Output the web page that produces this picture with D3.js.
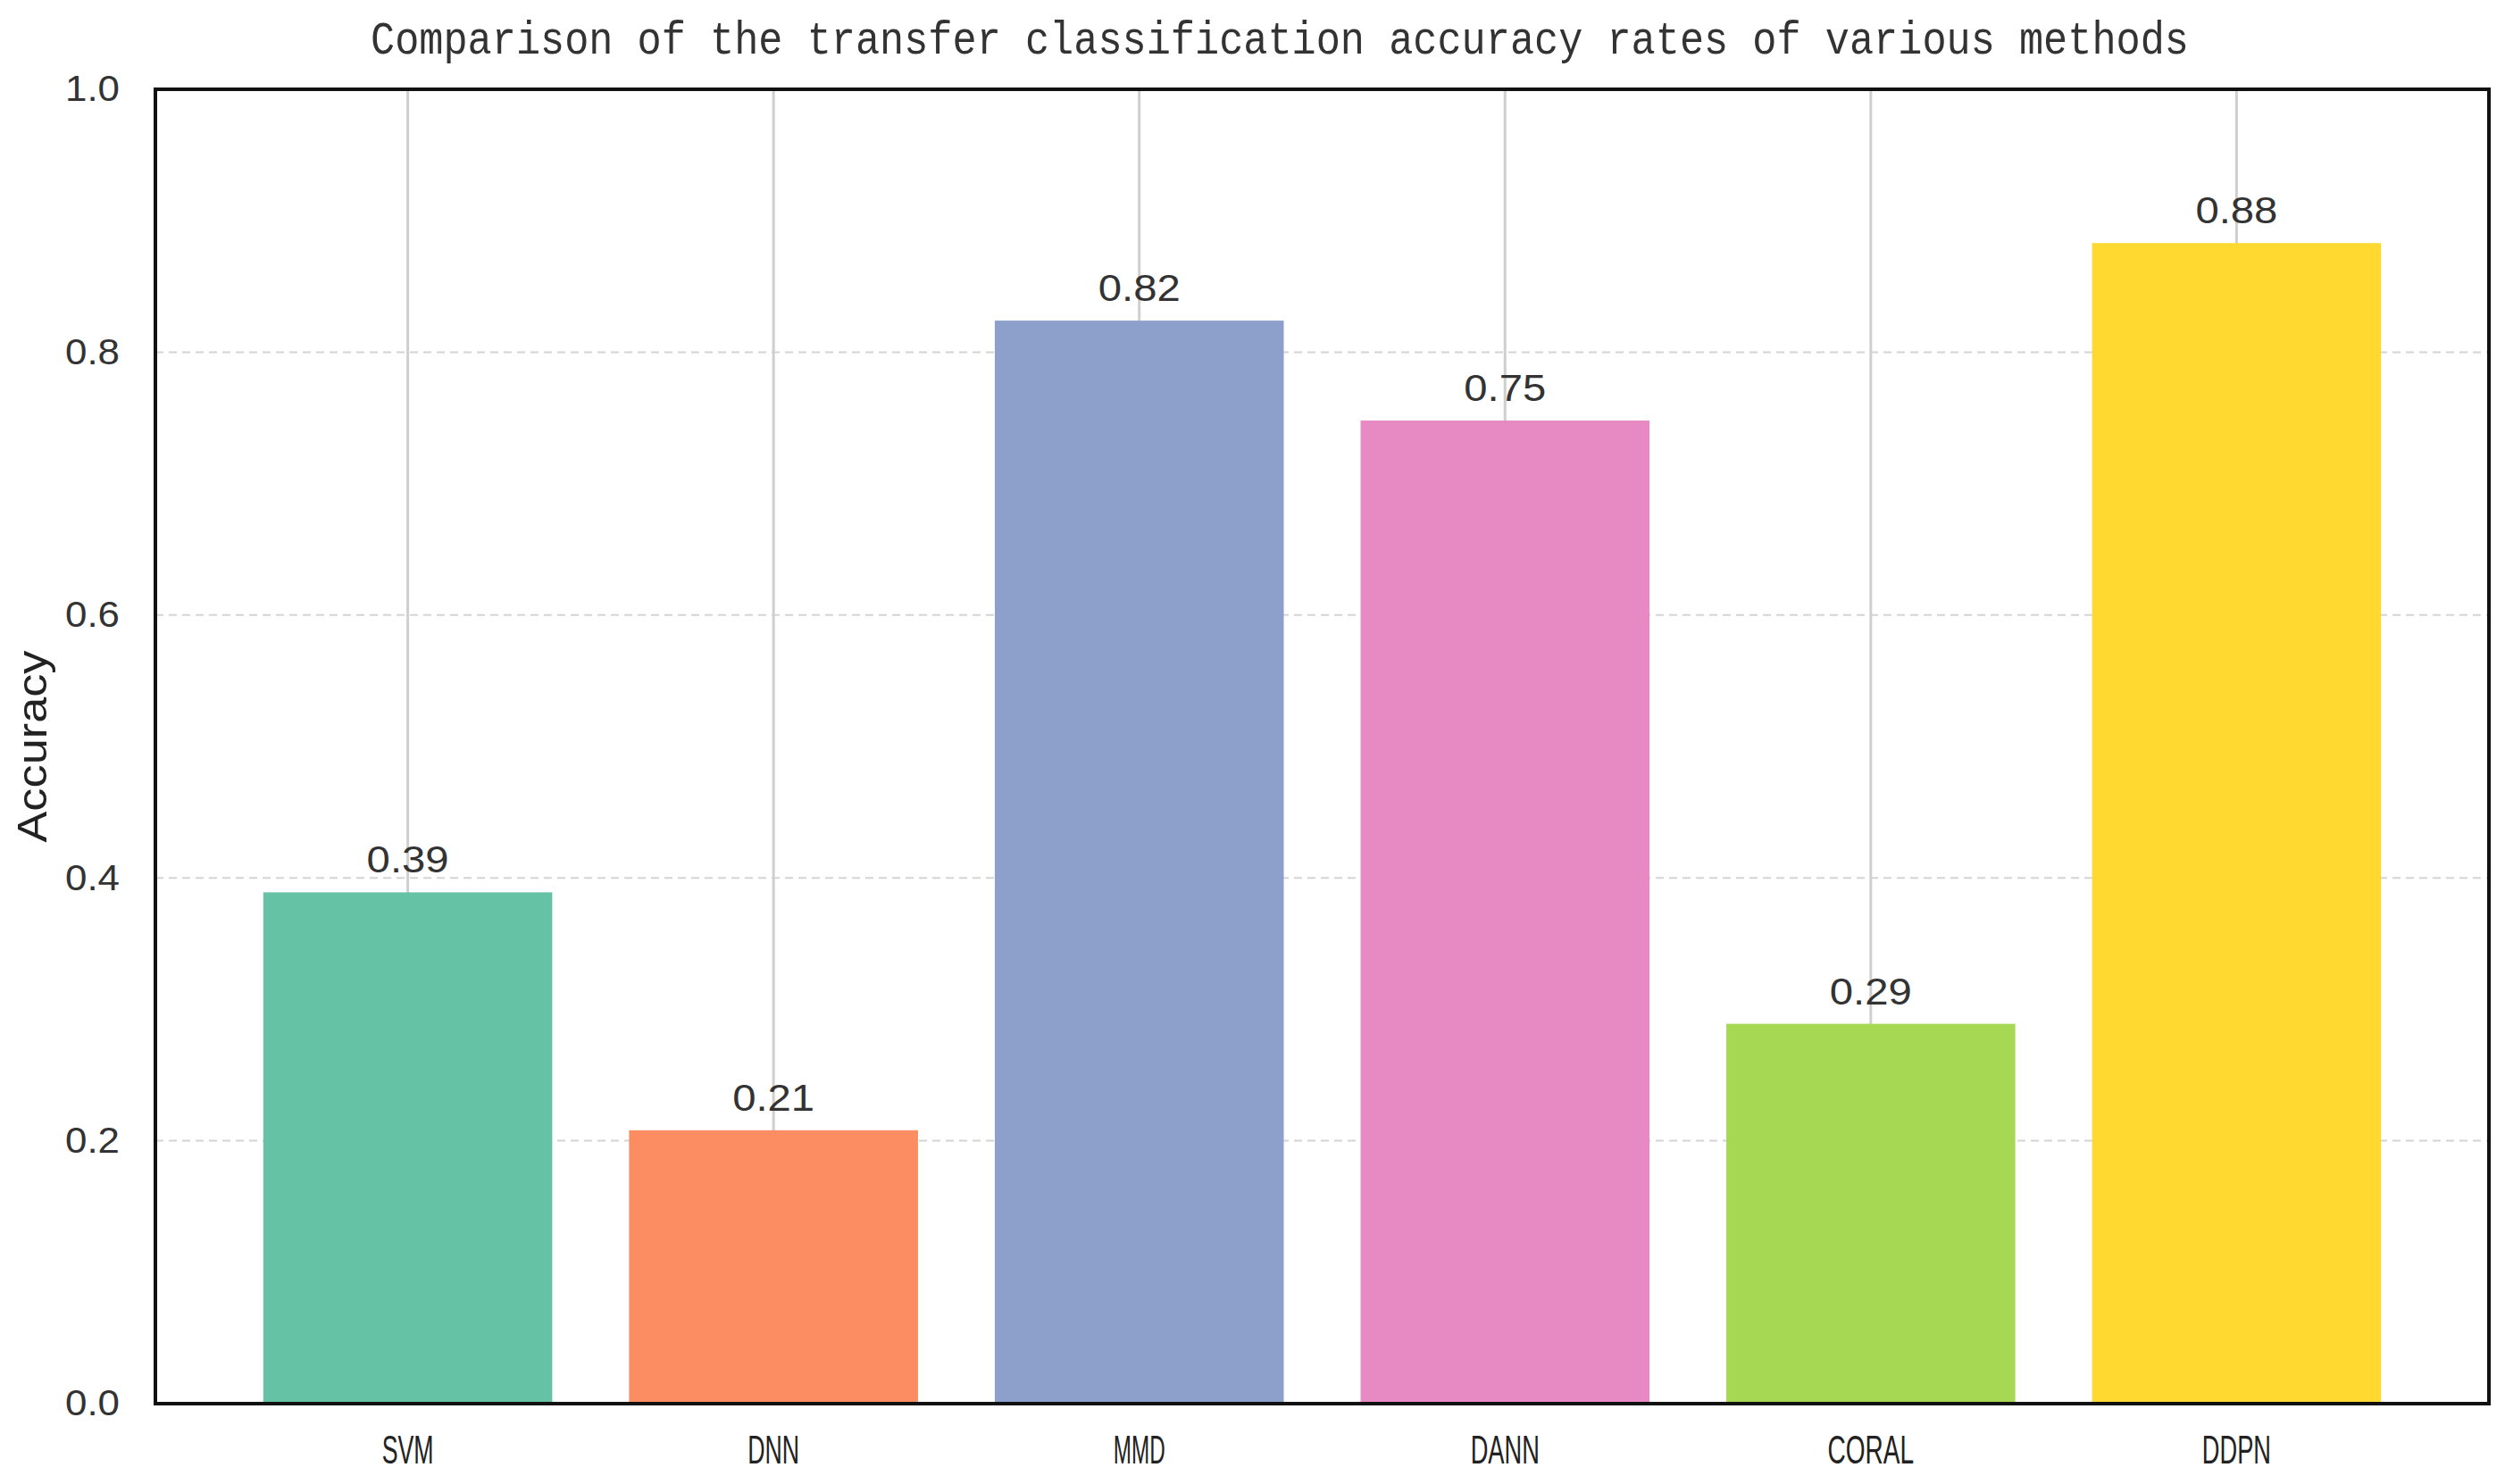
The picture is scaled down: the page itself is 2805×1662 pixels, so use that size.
<!DOCTYPE html>
<html>
<head>
<meta charset="utf-8">
<script src="https://cdn.jsdelivr.net/npm/d3@7"></script>
<style>
  html, body { margin: 0; padding: 0; background: #fff; }
  svg { display: block; }
</style>
</head>
<body>
<svg id="chart" width="2805" height="1662"></svg>
<script>
const categories = ["SVM", "DNN", "MMD", "DANN", "CORAL", "DDPN"];
const accuracy = [0.389, 0.208, 0.824, 0.748, 0.289, 0.883];
const colors = ["#66c2a5", "#fc8d62", "#8da0cb", "#e78ac3", "#a6d854", "#ffd92f"];
const yTicks = [0.0, 0.2, 0.4, 0.6, 0.8, 1.0];
const titleText = "Comparison of the transfer classification accuracy rates of various methods";
const yLabel = "Accuracy";

const W = 2805, H = 1662;
const margin = { left: 174, top: 100, right: 18, bottom: 90 };
const svg = d3.select("#chart");

const x = d3.scaleBand()
  .domain(categories)
  .range([margin.left, W - margin.right])
  .paddingInner(0.21)
  .paddingOuter(0.295);

const y = d3.scaleLinear()
  .domain([0, 1])
  .range([H - margin.bottom, margin.top]);

const labelFont = "'Liberation Sans', Arial, sans-serif";

// horizontal dashed grid
svg.append("g").selectAll("line")
  .data(yTicks)
  .join("line")
  .attr("x1", margin.left).attr("x2", W - margin.right)
  .attr("y1", d => y(d)).attr("y2", d => y(d))
  .attr("stroke", "#d4d4d4")
  .attr("stroke-width", 2)
  .attr("stroke-dasharray", "9,6");

// vertical grid at category centers
svg.append("g").selectAll("line")
  .data(categories)
  .join("line")
  .attr("x1", d => x(d) + x.bandwidth() / 2)
  .attr("x2", d => x(d) + x.bandwidth() / 2)
  .attr("y1", margin.top).attr("y2", H - margin.bottom)
  .attr("stroke", "#cfcfcf")
  .attr("stroke-width", 3);

// bars
svg.append("g").selectAll("rect")
  .data(categories)
  .join("rect")
  .attr("x", d => x(d))
  .attr("width", x.bandwidth())
  .attr("y", (d, i) => y(accuracy[i]))
  .attr("height", (d, i) => y(0) - y(accuracy[i]))
  .attr("fill", (d, i) => colors[i]);

// value labels
svg.append("g").selectAll("text")
  .data(categories)
  .join("text")
  .attr("x", d => x(d) + x.bandwidth() / 2)
  .attr("y", (d, i) => y(accuracy[i]) - 22)
  .attr("text-anchor", "middle")
  .attr("font-family", labelFont)
  .attr("font-size", 42)
  .attr("fill", "#333")
  .attr("textLength", (d, i) => d3.format(".2f")(accuracy[i]).length * 23)
  .attr("lengthAdjust", "spacingAndGlyphs")
  .text((d, i) => d3.format(".2f")(accuracy[i]));

// frame
svg.append("rect")
  .attr("x", margin.left).attr("y", margin.top)
  .attr("width", W - margin.left - margin.right)
  .attr("height", H - margin.top - margin.bottom)
  .attr("fill", "none")
  .attr("stroke", "#111")
  .attr("stroke-width", 4);

// y axis
const yAxis = svg.append("g")
  .attr("transform", `translate(${margin.left},0)`)
  .call(d3.axisLeft(y).tickValues(yTicks).tickFormat(d3.format(".1f")).tickSize(0).tickPadding(40));
yAxis.select(".domain").remove();
yAxis.selectAll("text")
  .attr("font-family", labelFont)
  .attr("font-size", 40)
  .attr("fill", "#333")
  .attr("textLength", 61)
  .attr("lengthAdjust", "spacingAndGlyphs");

// x axis
const xAxis = svg.append("g")
  .attr("transform", `translate(0,${H - margin.bottom})`)
  .call(d3.axisBottom(x).tickSize(0).tickPadding(36));
xAxis.select(".domain").remove();
xAxis.selectAll("text")
  .attr("font-family", labelFont)
  .attr("font-size", 44)
  .attr("fill", "#222")
  .attr("textLength", d => d.length * 19.3)
  .attr("lengthAdjust", "spacingAndGlyphs");

// y label
svg.append("text")
  .attr("transform", `translate(52,${(margin.top + H - margin.bottom) / 2}) rotate(-90)`)
  .attr("text-anchor", "middle")
  .attr("font-family", labelFont)
  .attr("font-size", 46)
  .attr("fill", "#222")
  .attr("textLength", 215)
  .attr("lengthAdjust", "spacingAndGlyphs")
  .text(yLabel);

// title
svg.append("text")
  .attr("x", 415)
  .attr("y", 60)
  .attr("font-family", "'Liberation Mono', 'DejaVu Sans Mono', monospace")
  .attr("font-size", 52)
  .attr("fill", "#333")
  .attr("textLength", 2036)
  .attr("lengthAdjust", "spacingAndGlyphs")
  .text(titleText);
</script>
</body>
</html>
